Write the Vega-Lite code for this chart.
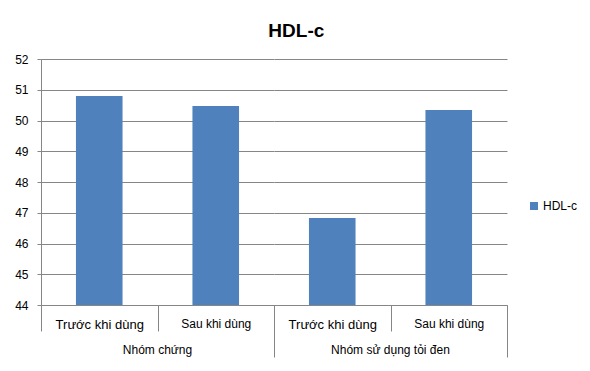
{
  "$schema": "https://vega.github.io/schema/vega-lite/v6.json",
  "padding": {"left": 14, "top": 22, "right": 5, "bottom": 5},
  "background": "white",
  "title": {"text": "HDL-c", "fontSize": 19, "font": "Liberation Sans", "fontWeight": "bold", "color": "#000000", "anchor": "middle", "offset": 12},
  "data": {"values": [
    {"nhom": "Nhóm chứng", "thoi_diem": "Trước khi dùng", "HDL": 50.8, "series": "HDL-c"},
    {"nhom": "Nhóm chứng", "thoi_diem": "Sau khi dùng", "HDL": 50.47, "series": "HDL-c"},
    {"nhom": "Nhóm sử dụng tỏi đen", "thoi_diem": "Trước khi dùng", "HDL": 46.83, "series": "HDL-c"},
    {"nhom": "Nhóm sử dụng tỏi đen", "thoi_diem": "Sau khi dùng", "HDL": 50.34, "series": "HDL-c"}
  ]},
  "facet": {"column": {"field": "nhom", "type": "nominal", "sort": ["Nhóm chứng", "Nhóm sử dụng tỏi đen"], "title": null,
    "header": {"labelOrient": "bottom", "title": null, "labelFontSize": 12, "labelFont": "Liberation Sans", "labelColor": "#000000", "labelPadding": -13}}},
  "spacing": 0,
  "spec": {
    "width": 233,
    "height": 246,
    "mark": {"type": "bar", "width": {"band": 0.4}},
    "encoding": {
      "x": {"field": "thoi_diem", "type": "nominal", "sort": ["Trước khi dùng", "Sau khi dùng"], "title": null,
        "scale": {"paddingInner": 0, "paddingOuter": 0},
        "axis": {"labelAngle": 0, "grid": false, "domainColor": "#868686", "tickColor": "#868686", "tickBand": "extent",
          "tickSize": {"condition": {"test": "datum.index > 0", "value": 52}, "value": 26},
          "labelPadding": {"condition": {"test": "datum.index > 0", "value": -39}, "value": -13},
          "labelFontSize": {"condition": {"test": "datum.value == 'Trước khi dùng'", "value": 13}, "value": 12},
          "labelColor": "#000000", "labelFont": "Liberation Sans"}},
      "y": {"field": "HDL", "type": "quantitative", "title": null,
        "scale": {"domain": [44, 52], "zero": false, "clamp": true, "nice": false},
        "axis": {"values": [44, 45, 46, 47, 48, 49, 50, 51, 52], "grid": true, "gridColor": "#868686", "domainColor": "#868686", "tickColor": "#868686",
          "tickSize": 4, "labelPadding": 9, "labelFontSize": 12, "labelColor": "#000000", "labelFont": "Liberation Sans"}},
      "color": {"field": "series", "type": "nominal", "scale": {"range": ["#4F81BD"]},
        "legend": {"title": null, "orient": "none", "legendX": 487, "legendY": 141, "labelOffset": 3, "symbolType": "square", "symbolSize": 64, "symbolStrokeWidth": 0, "labelFontSize": 12, "labelFont": "Liberation Sans", "labelColor": "#000000"}}
    }
  },
  "config": {"view": {"stroke": null}, "font": "Liberation Sans"}
}
